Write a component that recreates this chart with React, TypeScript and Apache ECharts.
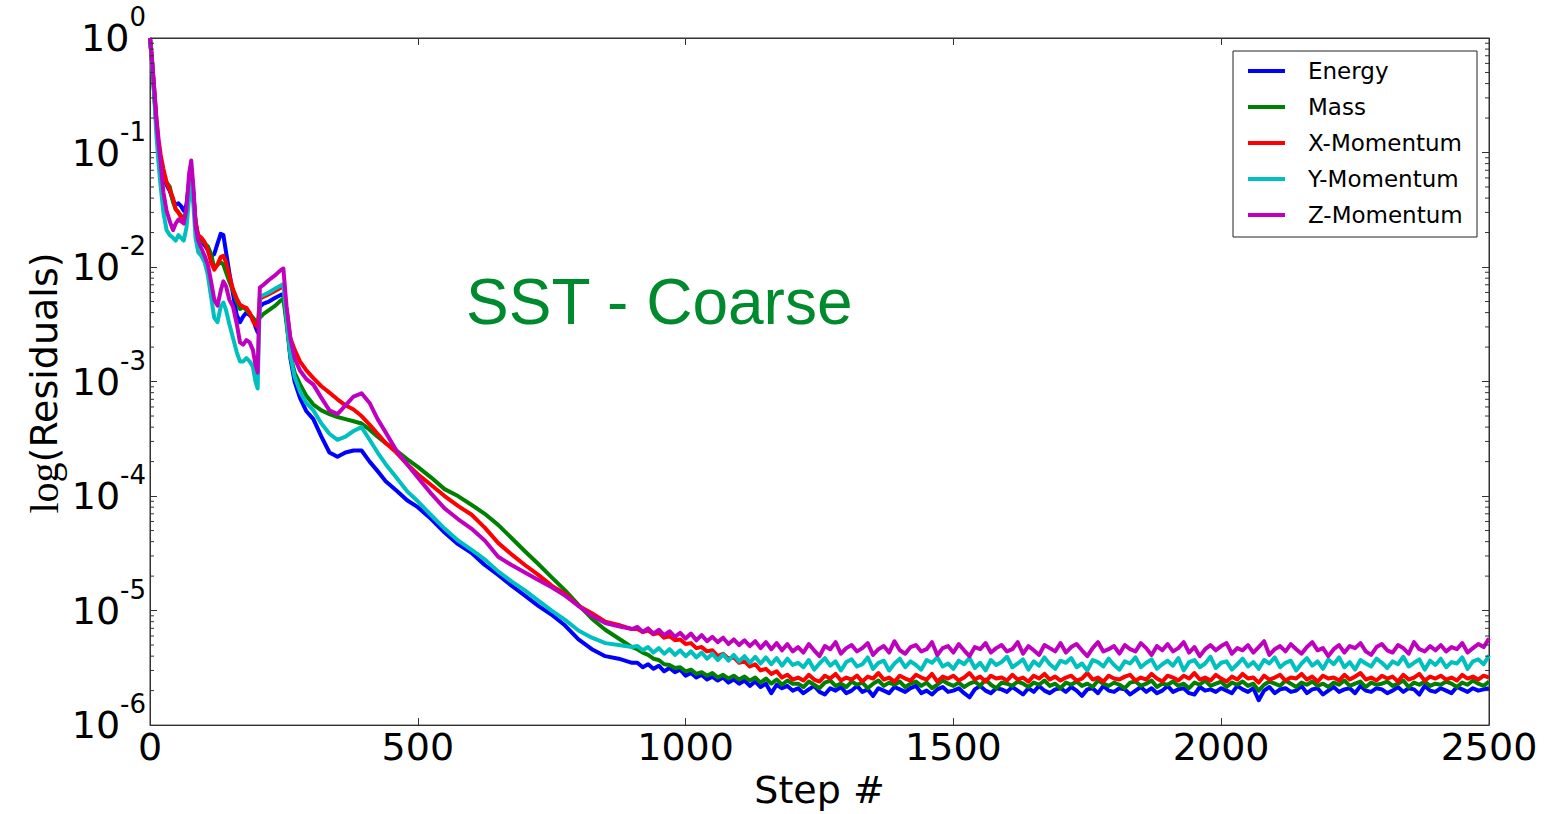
import React, { useEffect, useRef } from "react";
import * as echarts from "echarts";

// ---- x positions (solver step) ----
const stepsHead = [0, 4, 8, 12, 16, 20, 25, 31, 37, 43, 48, 53, 58, 63, 68, 73, 77, 81, 85, 90, 96, 102, 108, 114, 120, 126, 132, 137, 142, 148, 155, 162, 168, 174, 180, 186, 192, 197, 201, 205, 212, 222, 234, 244, 249, 255, 262, 270, 280, 292, 305, 320, 335, 350, 365, 380, 395, 410, 425, 440, 460, 480, 500, 525, 550, 575];
const stepsMid = [600, 625, 650, 675, 700, 725, 750, 775, 800, 825, 850, 875, 900];
const stepsSettle = Array.from({ length: 30 }, (_, i) => 910 + 10 * i); // 910 … 1200, every 10 steps
const stepsTail = Array.from({ length: 130 }, (_, i) => 1210 + 10 * i); // 1210 … 2500, every 10 steps
const MICRO = 1e-6; // settle / tail arrays are written in units of 1e-6

// ---- Energy ----
const energyHead = [1, 0.6, 0.32, 0.17, 0.11, 0.08, 0.062, 0.052, 0.046, 0.038, 0.035, 0.036, 0.034, 0.031, 0.035, 0.055, 0.07, 0.045, 0.025, 0.018, 0.017, 0.0155, 0.014, 0.0125, 0.013, 0.016, 0.0195, 0.019, 0.0135, 0.009, 0.0058, 0.0038, 0.0033, 0.0037, 0.004, 0.0038, 0.0036, 0.003, 0.0027, 0.0045, 0.0048, 0.005, 0.0054, 0.0057, 0.0058, 0.0035, 0.0016, 0.001, 0.00072, 0.00055, 0.00047, 0.00033, 0.00024, 0.00022, 0.00024, 0.00025, 0.00025, 0.0002, 0.000165, 0.000135, 0.000112, 0.000092, 0.00008, 0.000063, 0.000048, 0.000038];
const energyMid = [3.2e-5, 2.5e-5, 2.05e-5, 1.65e-5, 1.35e-5, 1.1e-5, 9.2e-6, 7.4e-6, 5.6e-6, 4.6e-6, 4.0e-6, 3.8e-6, 3.5e-6];
const energySettleMicro = [3.5, 3.2, 3.4, 3.1, 3.3, 2.95, 3.15, 2.9, 3.05, 2.7, 2.85, 2.6, 2.75, 2.5, 2.65, 2.45, 2.6, 2.35, 2.5, 2.3, 2.45, 2.2, 2.4, 2.15, 2.3, 1.9, 2.25, 2.1, 2.2, 2.0];
const energyTailMicro = [
  2.1, 1.9, 2.05, 2.2, 1.95, 1.85, 2.1, 2.0, 2.15, 1.9,
  2.0, 2.2, 1.95, 2.05, 1.8, 2.1, 2.0, 1.9, 2.15, 2.05,
  1.95, 2.1, 2.2, 1.9, 2.0, 1.85, 2.05, 2.15, 1.95, 2.0,
  2.1, 1.9, 1.75, 2.05, 2.2, 2.0, 1.9, 2.1, 2.05, 1.95,
  2.15, 2.0, 1.85, 2.1, 1.95, 2.2, 2.0, 1.9, 2.05, 2.1,
  1.95, 2.15, 2.0, 1.8, 2.05, 2.1, 1.9, 2.2, 2.0, 1.95,
  2.1, 2.05, 1.85, 2.0, 2.15, 1.95, 2.1, 1.9, 2.0, 2.2,
  1.95, 2.05, 2.1, 1.9, 1.85, 2.15, 2.0, 2.05, 1.95, 2.1,
  2.0, 1.9, 2.2, 2.05, 1.95, 2.1, 1.65, 2.0, 2.15, 1.9,
  2.05, 2.1, 1.95, 2.0, 2.2, 1.9, 2.05, 2.1, 1.85, 2.0,
  2.15, 1.95, 2.05, 2.1, 1.9, 2.2, 2.0, 1.95, 2.1, 2.05,
  1.9, 2.0, 2.15, 1.95, 2.1, 2.05, 1.85, 2.2, 2.0, 1.95,
  2.1, 2.0, 1.9, 2.15, 2.05, 1.95, 2.1, 2.0, 2.05, 2.1,
];

// ---- Mass ----
const massHead = [1, 0.6, 0.32, 0.17, 0.11, 0.08, 0.062, 0.055, 0.05, 0.037, 0.032, 0.03, 0.028, 0.027, 0.03, 0.05, 0.065, 0.042, 0.024, 0.018, 0.017, 0.016, 0.0152, 0.013, 0.0098, 0.0105, 0.011, 0.0105, 0.009, 0.0075, 0.0062, 0.005, 0.0043, 0.0045, 0.0042, 0.0039, 0.0036, 0.0034, 0.0033, 0.0036, 0.0039, 0.0042, 0.0046, 0.0051, 0.0053, 0.0032, 0.0017, 0.0012, 0.00095, 0.00075, 0.00063, 0.00056, 0.00052, 0.00049, 0.00047, 0.00045, 0.00043, 0.00038, 0.00033, 0.00029, 0.00025, 0.00021, 0.00018, 0.000145, 0.000115, 0.0001];
const massMid = [8.4e-5, 7.0e-5, 5.6e-5, 4.3e-5, 3.3e-5, 2.55e-5, 1.95e-5, 1.5e-5, 1.12e-5, 8.5e-6, 6.8e-6, 5.7e-6, 4.8e-6];
const massSettleMicro = [4.6, 4.3, 4.1, 3.8, 3.7, 3.4, 3.35, 3.15, 3.2, 2.95, 3.05, 2.8, 2.9, 2.7, 2.85, 2.6, 2.75, 2.55, 2.7, 2.5, 2.65, 2.45, 2.6, 2.35, 2.55, 2.3, 2.5, 2.25, 2.45, 2.3];
const massTailMicro = [
  2.3, 2.15, 2.4, 2.25, 2.1, 2.35, 2.45, 2.2, 2.3, 2.15,
  2.4, 2.25, 2.35, 2.1, 2.3, 2.45, 2.2, 2.35, 2.25, 2.4,
  2.15, 2.3, 2.4, 2.2, 2.35, 2.1, 2.25, 2.45, 2.3, 2.2,
  2.35, 2.15, 2.3, 2.4, 2.2, 2.5, 2.25, 2.1, 2.35, 2.3,
  2.2, 2.4, 2.3, 2.15, 2.35, 2.25, 2.45, 2.2, 2.3, 2.1,
  2.35, 2.25, 2.4, 2.2, 2.3, 2.15, 2.45, 2.3, 2.2, 2.35,
  2.25, 2.1, 2.35, 2.4, 2.2, 2.3, 2.45, 2.15, 2.3, 2.25,
  2.4, 2.2, 2.3, 2.1, 2.35, 2.25, 2.45, 2.2, 2.3, 2.4,
  2.15, 2.35, 2.25, 2.4, 2.2, 2.3, 2.0, 2.25, 2.4, 2.3,
  2.2, 2.45, 2.3, 2.15, 2.35, 2.25, 2.4, 2.2, 2.3, 2.15,
  2.35, 2.25, 2.45, 2.2, 2.3, 2.4, 2.15, 2.35, 2.25, 2.3,
  2.4, 2.2, 2.3, 2.45, 2.15, 2.35, 2.25, 2.4, 2.2, 2.3,
  2.25, 2.4, 2.3, 2.15, 2.35, 2.25, 2.45, 2.3, 2.2, 2.4,
];

// ---- X-Momentum ----
const xMomHead = [1, 0.62, 0.36, 0.2, 0.13, 0.095, 0.072, 0.055, 0.047, 0.04, 0.032, 0.03, 0.027, 0.026, 0.03, 0.05, 0.068, 0.043, 0.025, 0.019, 0.018, 0.0165, 0.014, 0.011, 0.0095, 0.0105, 0.0122, 0.0125, 0.011, 0.0085, 0.0064, 0.0053, 0.0047, 0.0045, 0.0044, 0.004, 0.0034, 0.0031, 0.003, 0.0053, 0.0055, 0.0058, 0.0062, 0.0066, 0.0068, 0.0042, 0.0024, 0.0019, 0.0015, 0.00125, 0.00107, 0.00091, 0.0008, 0.0007, 0.00062, 0.00057, 0.0005, 0.00042, 0.00035, 0.00029, 0.00024, 0.00019, 0.000155, 0.000125, 0.0001, 0.000082];
const xMomMid = [6.9e-5, 5.3e-5, 3.9e-5, 3.1e-5, 2.5e-5, 2.05e-5, 1.65e-5, 1.4e-5, 1.1e-5, 9.5e-6, 8.0e-6, 7.5e-6, 6.9e-6];
const xMomSettleMicro = [6.9, 6.5, 6.7, 6.2, 6.4, 5.8, 6.0, 5.5, 5.6, 5.1, 5.2, 4.7, 4.8, 4.4, 4.5, 4.0, 4.2, 3.8, 3.9, 3.5, 3.6, 3.25, 3.4, 3.0, 3.1, 2.8, 2.95, 2.6, 2.75, 2.5];
const xMomTailMicro = [
  2.6, 2.45, 2.75, 2.5, 2.4, 2.7, 2.55, 2.8, 2.45, 2.6,
  2.5, 2.7, 2.4, 2.65, 2.55, 2.85, 2.5, 2.6, 2.4, 2.7,
  2.55, 2.45, 2.75, 2.6, 2.5, 2.8, 2.4, 2.65, 2.55, 2.7,
  2.45, 2.6, 2.85, 2.5, 2.65, 2.4, 2.7, 2.55, 2.6, 2.45,
  2.75, 2.5, 2.6, 2.4, 2.7, 2.55, 2.8, 2.5, 2.65, 2.45,
  2.6, 2.7, 2.45, 2.55, 2.85, 2.5, 2.6, 2.4, 2.7, 2.55,
  2.5, 2.65, 2.75, 2.45, 2.6, 2.5, 2.8, 2.55, 2.4, 2.7,
  2.6, 2.45, 2.7, 2.55, 2.85, 2.5, 2.6, 2.45, 2.75, 2.55,
  2.4, 2.65, 2.5, 2.8, 2.55, 2.6, 2.35, 2.7, 2.5, 2.6,
  2.75, 2.45, 2.6, 2.55, 2.8, 2.5, 2.65, 2.4, 2.7, 2.55,
  2.6, 2.45, 2.75, 2.5, 2.65, 2.85, 2.5, 2.6, 2.45, 2.7,
  2.55, 2.65, 2.4, 2.75, 2.5, 2.6, 2.8, 2.45, 2.65, 2.55,
  2.7, 2.5, 2.6, 2.45, 2.75, 2.55, 2.65, 2.5, 2.7, 2.6,
];

// ---- Y-Momentum ----
const yMomHead = [1, 0.58, 0.3, 0.14, 0.08, 0.05, 0.03, 0.021, 0.019, 0.018, 0.017, 0.019, 0.018, 0.017, 0.022, 0.04, 0.055, 0.035, 0.018, 0.0135, 0.0125, 0.011, 0.0085, 0.0055, 0.0036, 0.0033, 0.0045, 0.0049, 0.0042, 0.0032, 0.0024, 0.0018, 0.0015, 0.0015, 0.0016, 0.0015, 0.00135, 0.001, 0.00087, 0.0055, 0.0057, 0.006, 0.0065, 0.0069, 0.0071, 0.0035, 0.0017, 0.0011, 0.00082, 0.00065, 0.00056, 0.00043, 0.00035, 0.00031, 0.00033, 0.00037, 0.0004, 0.00031, 0.00024, 0.00019, 0.000145, 0.00011, 0.00009, 0.000068, 0.000052, 0.000041];
const yMomMid = [3.4e-5, 2.8e-5, 2.2e-5, 1.8e-5, 1.5e-5, 1.22e-5, 1.0e-5, 8.3e-6, 6.7e-6, 5.8e-6, 5.2e-6, 5.0e-6, 4.8e-6];
const yMomSettleMicro = [4.9, 4.5, 4.8, 4.3, 4.7, 4.2, 4.6, 4.1, 4.5, 4.0, 4.4, 3.9, 4.3, 3.8, 4.2, 3.7, 4.15, 3.65, 4.1, 3.6, 4.0, 3.5, 3.95, 3.45, 3.9, 3.4, 3.85, 3.3, 3.8, 3.35];
const yMomTailMicro = [
  3.5, 3.2, 3.7, 3.05, 3.45, 3.85, 3.3, 3.6, 3.0, 3.55,
  3.75, 3.25, 3.4, 3.9, 3.1, 3.5, 3.65, 3.0, 3.45, 3.8,
  3.2, 3.6, 3.35, 3.05, 3.7, 3.5, 3.9, 3.25, 3.45, 3.1,
  3.65, 3.4, 3.85, 3.15, 3.5, 3.0, 3.7, 3.35, 3.55, 3.95,
  3.2, 3.45, 3.75, 3.05, 3.6, 3.3, 3.9, 3.4, 3.1, 3.65,
  3.5, 3.85, 3.2, 3.45, 3.0, 3.7, 3.55, 3.25, 3.8, 3.35,
  3.05, 3.6, 3.45, 3.9, 3.2, 3.5, 3.75, 3.1, 3.4, 3.65,
  3.3, 3.85, 3.0, 3.55, 3.7, 3.2, 3.45, 3.95, 3.15, 3.5,
  3.6, 3.05, 3.4, 3.8, 3.25, 3.55, 3.1, 3.7, 3.45, 3.9,
  3.2, 3.5, 3.65, 3.0, 3.45, 3.85, 3.3, 3.6, 3.1, 3.75,
  3.4, 3.9, 3.2, 3.55, 3.05, 3.7, 3.45, 3.25, 3.8, 3.5,
  3.15, 3.6, 3.4, 3.95, 3.25, 3.5, 3.75, 3.05, 3.65, 3.35,
  3.8, 3.2, 3.55, 3.45, 3.9, 3.1, 3.6, 3.75, 3.4, 4.05,
];

// ---- Z-Momentum ----
const zMomHead = [1, 0.62, 0.35, 0.19, 0.12, 0.08, 0.045, 0.031, 0.025, 0.021, 0.024, 0.026, 0.025, 0.024, 0.032, 0.065, 0.085, 0.05, 0.023, 0.017, 0.0145, 0.0125, 0.0105, 0.0075, 0.0052, 0.0046, 0.0062, 0.0075, 0.0068, 0.0052, 0.0045, 0.0032, 0.0022, 0.0021, 0.0023, 0.0022, 0.0019, 0.0014, 0.0012, 0.0066, 0.007, 0.0077, 0.0085, 0.0094, 0.0097, 0.0045, 0.0024, 0.0016, 0.00125, 0.00105, 0.00094, 0.00072, 0.00056, 0.00052, 0.00062, 0.00074, 0.00079, 0.00065, 0.00047, 0.00036, 0.00025, 0.00019, 0.000145, 0.000105, 0.000078, 0.000063];
const zMomMid = [5.2e-5, 4.1e-5, 2.95e-5, 2.5e-5, 2.15e-5, 1.85e-5, 1.6e-5, 1.35e-5, 1.1e-5, 9.0e-6, 7.8e-6, 7.3e-6, 6.9e-6];
const zMomSettleMicro = [7.2, 6.5, 7.0, 6.3, 6.8, 6.1, 6.6, 5.9, 6.4, 5.7, 6.3, 5.5, 6.1, 5.4, 5.9, 5.3, 5.8, 5.1, 5.6, 5.0, 5.5, 4.9, 5.4, 4.7, 5.3, 4.6, 5.2, 4.5, 5.1, 4.4];
const zMomTailMicro = [
  4.8, 4.3, 5.1, 4.5, 4.0, 4.9, 4.6, 5.3, 4.2, 4.7,
  5.0, 4.4, 4.7, 5.2, 4.1, 4.6, 4.9, 4.3, 5.4, 4.5,
  4.2, 4.8, 5.0, 4.4, 4.6, 5.3, 4.1, 4.7, 4.9, 4.3,
  5.1, 4.5, 4.0, 4.8, 4.6, 5.2, 4.3, 4.7, 5.0, 4.4,
  4.6, 5.3, 4.2, 4.9, 4.5, 4.1, 5.0, 4.7, 4.4, 5.2,
  4.3, 4.8, 5.1, 4.5, 4.0, 4.7, 5.3, 4.4, 4.6, 4.9,
  4.2, 5.0, 4.6, 4.4, 5.2, 4.7, 4.1, 4.9, 4.5, 5.1,
  4.4, 4.7, 5.3, 4.3, 4.8, 4.0, 4.6, 5.0, 4.5, 4.9,
  5.2, 4.2, 4.7, 4.5, 5.0, 4.3, 4.8, 5.4, 4.1, 4.6,
  4.9, 4.4, 5.1, 4.6, 4.2, 4.8, 5.3, 4.5, 4.7, 4.0,
  4.6, 5.0, 4.3, 4.9, 4.7, 5.2, 4.4, 4.1, 4.8, 5.1,
  4.5, 4.3, 5.0, 4.7, 4.2, 5.3, 4.6, 4.4, 4.9, 4.5,
  5.0, 4.4, 4.8, 4.6, 5.2, 4.3, 4.7, 5.1, 4.8, 5.7,
];

const seriesNames = ["Energy", "Mass", "X-Momentum", "Y-Momentum", "Z-Momentum"];
const seriesColors = ["#0000ff", "#008000", "#ff0000", "#00bfbf", "#bf00bf"];
const xTickInterval = 500;
const minorMultipliers = [2, 3, 4, 5, 6, 7, 8, 9];
const decadeExponents = [-6, -5, -4, -3, -2, -1];

export default function App() {
  const ref = useRef<HTMLDivElement>(null);

  useEffect(() => {
    if (!ref.current) return;
    const chart = echarts.init(ref.current, null, { renderer: "svg" });

    const steps = [...stepsHead, ...stepsMid, ...stepsSettle, ...stepsTail];
    const micro = (a: number[]) => a.map((v) => v * MICRO);
    const values = [
      [...energyHead, ...energyMid, ...micro(energySettleMicro), ...micro(energyTailMicro)],
      [...massHead, ...massMid, ...micro(massSettleMicro), ...micro(massTailMicro)],
      [...xMomHead, ...xMomMid, ...micro(xMomSettleMicro), ...micro(xMomTailMicro)],
      [...yMomHead, ...yMomMid, ...micro(yMomSettleMicro), ...micro(yMomTailMicro)],
      [...zMomHead, ...zMomMid, ...micro(zMomSettleMicro), ...micro(zMomTailMicro)],
    ];

    const frame = "#333";
    const sans = "DejaVu Sans";

    const lineSeries = seriesNames.map((name, i) => ({
      type: "line",
      name,
      data: steps.map((s, k) => [s, values[i][k]]),
      showSymbol: false,
      symbol: "none",
      color: seriesColors[i],
      lineStyle: { width: 4, color: seriesColors[i], join: "round" },
      z: 2 + i,
      silent: true,
    }));

    const minorVals: number[][] = [];
    decadeExponents.forEach((e) =>
      minorMultipliers.forEach((m) => minorVals.push([0, m * Math.pow(10, e)]))
    );

    const minorTicks = {
      type: "custom",
      name: "minor",
      silent: true,
      data: minorVals,
      encode: { x: 0, y: 1 },
      z: 10,
      renderItem: (_p: any, api: any) => {
        const v = api.value(1);
        const l = api.coord([0, v]);
        const r = api.coord([2500, v]);
        return {
          type: "group",
          children: [
            { type: "line", shape: { x1: l[0], y1: l[1], x2: l[0] + 4, y2: l[1] }, style: { stroke: frame, lineWidth: 1 } },
            { type: "line", shape: { x1: r[0] - 4, y1: r[1], x2: r[0], y2: r[1] }, style: { stroke: frame, lineWidth: 1 } },
          ],
        };
      },
    };

    const yLabelFormatter = (v: number) => `{b|10}{s|${Math.round(Math.log10(v))}}`;

    chart.setOption({
      animation: false,
      backgroundColor: "#fff",
      grid: { left: 150, right: 67, top: 38, bottom: 85, show: true, borderColor: frame, borderWidth: 1 },
      xAxis: [
        {
          type: "value",
          min: 0,
          max: 2500,
          interval: xTickInterval,
          position: "bottom",
          axisLine: { show: true, onZero: false, lineStyle: { color: frame, width: 1 } },
          axisTick: { show: true, inside: true, length: 7, lineStyle: { color: frame } },
          axisLabel: { fontSize: 38, fontFamily: sans, color: "#000", margin: 3, formatter: (v: number) => String(v) },
          splitLine: { show: false },
          name: "Step #",
          nameLocation: "middle",
          nameGap: 43,
          nameTextStyle: { fontSize: 38, fontFamily: sans, color: "#000" },
        },
        {
          type: "value",
          min: 0,
          max: 2500,
          interval: xTickInterval,
          position: "top",
          axisLine: { show: true, onZero: false, lineStyle: { color: frame, width: 1 } },
          axisTick: { show: true, inside: true, length: 7, lineStyle: { color: frame } },
          axisLabel: { show: false },
          splitLine: { show: false },
        },
      ],
      yAxis: [
        {
          type: "log",
          logBase: 10,
          min: 1e-6,
          max: 1,
          interval: 1,
          position: "left",
          axisLine: { show: true, onZero: false, lineStyle: { color: frame, width: 1 } },
          axisTick: { show: true, inside: true, length: 7, lineStyle: { color: frame } },
          axisLabel: {
            margin: 4,
            color: "#000",
            formatter: yLabelFormatter,
            rich: {
              b: { fontSize: 38, fontFamily: sans, color: "#000", lineHeight: 68 },
              s: { fontSize: 26, fontFamily: sans, color: "#000", lineHeight: 38, verticalAlign: "top" },
            },
          },
          splitLine: { show: false },
        },
        {
          type: "log",
          logBase: 10,
          min: 1e-6,
          max: 1,
          interval: 1,
          position: "right",
          axisLine: { show: true, onZero: false, lineStyle: { color: frame, width: 1 } },
          axisTick: { show: true, inside: true, length: 7, lineStyle: { color: frame } },
          axisLabel: { show: false },
          splitLine: { show: false },
        },
      ],
      legend: {
        data: seriesNames,
        orient: "vertical",
        left: 1248,
        top: 58,
        padding: 0,
        icon: "rect",
        itemWidth: 37,
        itemHeight: 4,
        itemGap: 10,
        z: 20,
        textStyle: { fontSize: 23, fontFamily: sans, color: "#000", lineHeight: 26, padding: [0, 0, 0, 18] },
      },
      graphic: [
        {
          type: "rect",
          z: 15,
          shape: { x: 1233, y: 51, width: 244, height: 186 },
          style: { fill: "#fff", stroke: "#222", lineWidth: 1 },
        },
        {
          type: "text",
          z: 20,
          x: 466,
          y: 302,
          style: {
            text: "SST - Coarse",
            fontSize: 64,
            fontFamily: "Liberation Sans",
            fill: "#008a2e",
            align: "left",
            verticalAlign: "middle",
          },
        },
        {
          type: "text",
          z: 20,
          x: 44,
          y: 383,
          rotation: Math.PI / 2,
          style: {
            text: "{a|log}{b|(Residuals)}",
            align: "center",
            verticalAlign: "middle",
            rich: {
              a: { fontSize: 40, fontFamily: "Liberation Serif", fill: "#000" },
              b: { fontSize: 38, fontFamily: sans, fill: "#000" },
            },
          },
        },
      ],
      series: [...lineSeries, minorTicks],
    });

    return () => chart.dispose();
  }, []);

  return <div ref={ref} style={{ position: "fixed", left: 0, top: 0, width: 1556, height: 814 }} />;
}
